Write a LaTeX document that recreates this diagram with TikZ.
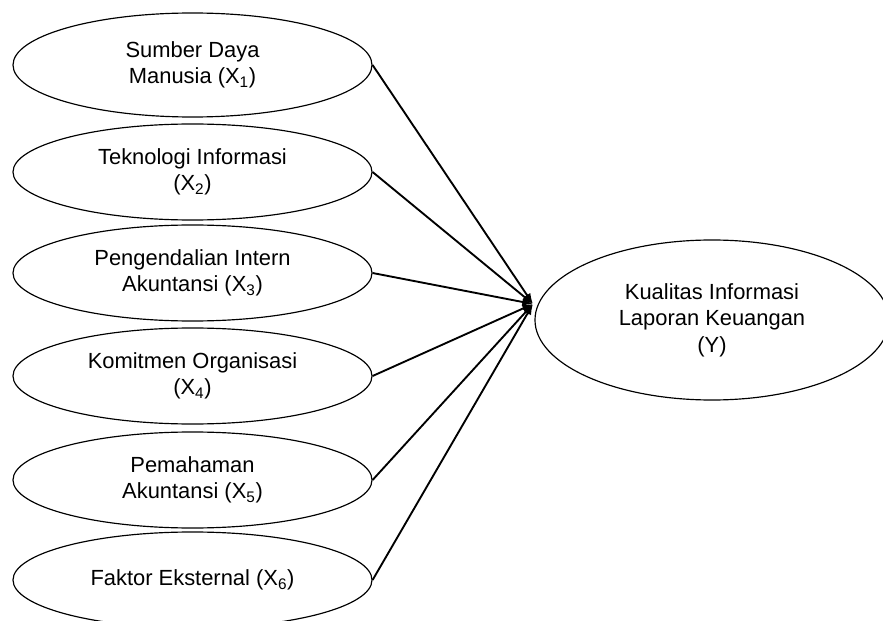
\documentclass[tikz,border=0pt]{standalone}
\usepackage{fontspec}
\setmainfont{Liberation Sans}
\usepackage{tikz}
\usetikzlibrary{arrows.meta, shapes.geometric}

\begin{document}
\begin{tikzpicture}[x=0.03cm, y=-0.03cm,
        var/.style={draw, ellipse, line width=1pt, inner sep=0pt,
            minimum width=10.77cm, minimum height=2.88cm, align=center,
            font=\fontsize{18.7}{22.6}\selectfont},
        path/.style={line width=1.6pt, -{Latex[length=3.2mm, width=2.4mm]}}]
        \useasboundingbox (0,0) rectangle (883,621);

        \node[var, minimum height=3.12cm] (X1) at (192.5,65) {Sumber Daya\\Manusia (X\textsubscript{1})};
        \node[var] (X2) at (192.5,172) {Teknologi Informasi\\(X\textsubscript{2})};
        \node[var] (X3) at (192.5,273) {Pengendalian Intern\\Akuntansi (X\textsubscript{3})};
        \node[var] (X4) at (192.5,376) {Komitmen Organisasi\\(X\textsubscript{4})};
        \node[var] (X5) at (192.5,480) {Pemahaman\\Akuntansi (X\textsubscript{5})};
        \node[var] (X6) at (192.5,580) {Faktor Eksternal (X\textsubscript{6})};

        \node[var, minimum width=10.62cm, minimum height=4.8cm] (Y) at (712,320)
            {Kualitas Informasi\\Laporan Keuangan\\(Y)};

        \coordinate (hub) at (533,304);

        \draw[path] (X1.east) -- (hub);
        \draw[path] (X2.east) -- (hub);
        \draw[path] (X3.east) -- (hub);
        \draw[path] (X4.east) -- (hub);
        \draw[path] (X5.east) -- (hub);
        \draw[path] (X6.east) -- (hub);

    \end{tikzpicture}
\end{document}
